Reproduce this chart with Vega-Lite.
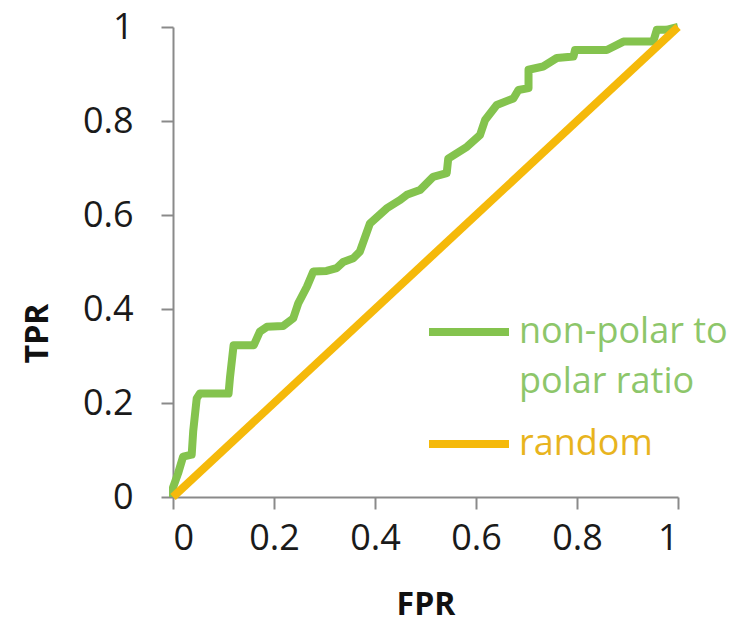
{
  "$schema": "https://vega.github.io/schema/vega-lite/v6.json",
  "width": 505,
  "height": 470,
  "autosize": {"type": "none"},
  "padding": {"left": 173, "top": 27, "right": 78, "bottom": 129},
  "background": "white",
  "config": {
    "view": {"stroke": null},
    "font": "Open Sans",
    "style": {"guide-label": {"lineHeight": 50}},
    "axis": {
      "grid": false,
      "domainColor": "#8a8a8a",
      "domainWidth": 2,
      "tickColor": "#8a8a8a",
      "tickWidth": 2,
      "tickSize": 12,
      "labelFont": "Open Sans",
      "labelFontSize": 36,
      "labelColor": "#1a1a1a",
      "titleFont": "Open Sans",
      "titleFontSize": 32,
      "titleFontWeight": "bold",
      "titleColor": "#111111"
    }
  },
  "data": {
    "values": [
      {"series": "non-polar to polar ratio", "fpr": 0, "tpr": 0},
      {"series": "non-polar to polar ratio", "fpr": 0, "tpr": 0.02},
      {"series": "non-polar to polar ratio", "fpr": 0.01, "tpr": 0.05},
      {"series": "non-polar to polar ratio", "fpr": 0.02, "tpr": 0.086},
      {"series": "non-polar to polar ratio", "fpr": 0.037, "tpr": 0.09},
      {"series": "non-polar to polar ratio", "fpr": 0.04, "tpr": 0.14},
      {"series": "non-polar to polar ratio", "fpr": 0.047, "tpr": 0.21},
      {"series": "non-polar to polar ratio", "fpr": 0.053, "tpr": 0.22},
      {"series": "non-polar to polar ratio", "fpr": 0.11, "tpr": 0.22},
      {"series": "non-polar to polar ratio", "fpr": 0.113, "tpr": 0.256},
      {"series": "non-polar to polar ratio", "fpr": 0.12, "tpr": 0.323},
      {"series": "non-polar to polar ratio", "fpr": 0.16, "tpr": 0.323},
      {"series": "non-polar to polar ratio", "fpr": 0.172, "tpr": 0.352},
      {"series": "non-polar to polar ratio", "fpr": 0.186, "tpr": 0.362},
      {"series": "non-polar to polar ratio", "fpr": 0.218, "tpr": 0.364},
      {"series": "non-polar to polar ratio", "fpr": 0.238, "tpr": 0.38},
      {"series": "non-polar to polar ratio", "fpr": 0.248, "tpr": 0.412},
      {"series": "non-polar to polar ratio", "fpr": 0.265, "tpr": 0.447},
      {"series": "non-polar to polar ratio", "fpr": 0.278, "tpr": 0.48},
      {"series": "non-polar to polar ratio", "fpr": 0.304, "tpr": 0.481},
      {"series": "non-polar to polar ratio", "fpr": 0.324, "tpr": 0.487},
      {"series": "non-polar to polar ratio", "fpr": 0.337, "tpr": 0.5},
      {"series": "non-polar to polar ratio", "fpr": 0.357, "tpr": 0.508},
      {"series": "non-polar to polar ratio", "fpr": 0.37, "tpr": 0.522},
      {"series": "non-polar to polar ratio", "fpr": 0.39, "tpr": 0.582},
      {"series": "non-polar to polar ratio", "fpr": 0.423, "tpr": 0.614},
      {"series": "non-polar to polar ratio", "fpr": 0.45, "tpr": 0.632},
      {"series": "non-polar to polar ratio", "fpr": 0.463, "tpr": 0.643},
      {"series": "non-polar to polar ratio", "fpr": 0.489, "tpr": 0.653},
      {"series": "non-polar to polar ratio", "fpr": 0.515, "tpr": 0.681},
      {"series": "non-polar to polar ratio", "fpr": 0.542, "tpr": 0.689},
      {"series": "non-polar to polar ratio", "fpr": 0.545, "tpr": 0.72},
      {"series": "non-polar to polar ratio", "fpr": 0.582, "tpr": 0.745},
      {"series": "non-polar to polar ratio", "fpr": 0.608, "tpr": 0.77},
      {"series": "non-polar to polar ratio", "fpr": 0.618, "tpr": 0.802},
      {"series": "non-polar to polar ratio", "fpr": 0.641, "tpr": 0.834},
      {"series": "non-polar to polar ratio", "fpr": 0.674, "tpr": 0.848},
      {"series": "non-polar to polar ratio", "fpr": 0.684, "tpr": 0.866},
      {"series": "non-polar to polar ratio", "fpr": 0.704, "tpr": 0.87},
      {"series": "non-polar to polar ratio", "fpr": 0.704, "tpr": 0.909},
      {"series": "non-polar to polar ratio", "fpr": 0.733, "tpr": 0.916},
      {"series": "non-polar to polar ratio", "fpr": 0.76, "tpr": 0.934},
      {"series": "non-polar to polar ratio", "fpr": 0.793, "tpr": 0.937},
      {"series": "non-polar to polar ratio", "fpr": 0.796, "tpr": 0.951},
      {"series": "non-polar to polar ratio", "fpr": 0.859, "tpr": 0.951},
      {"series": "non-polar to polar ratio", "fpr": 0.892, "tpr": 0.969},
      {"series": "non-polar to polar ratio", "fpr": 0.951, "tpr": 0.969},
      {"series": "non-polar to polar ratio", "fpr": 0.958, "tpr": 0.994},
      {"series": "non-polar to polar ratio", "fpr": 0.977, "tpr": 0.994},
      {"series": "non-polar to polar ratio", "fpr": 1, "tpr": 1},
      {"series": "random", "fpr": 0, "tpr": 0},
      {"series": "random", "fpr": 1, "tpr": 1}
    ]
  },
  "mark": {"type": "line", "strokeWidth": 8, "strokeJoin": "round", "strokeCap": "butt"},
  "encoding": {
    "x": {
      "field": "fpr", "type": "quantitative", "title": "FPR",
      "scale": {"domain": [0, 1], "nice": false, "zero": false},
      "axis": {"values": [0, 0.2, 0.4, 0.6, 0.8, 1], "format": ".1~f", "labelPadding": 12, "titlePadding": 33}
    },
    "y": {
      "field": "tpr", "type": "quantitative", "title": "TPR",
      "scale": {"domain": [0, 1], "nice": false, "zero": false},
      "axis": {"values": [0, 0.2, 0.4, 0.6, 0.8, 1], "format": ".1~f", "labelPadding": 28, "titlePadding": 28, "titleY": 306}
    },
    "color": {
      "field": "series", "type": "nominal",
      "scale": {"domain": ["non-polar to polar ratio", "random"], "range": ["#84c34e", "#f5b90a"]},
      "legend": {
        "title": null,
        "orient": "none",
        "legendX": 252,
        "legendY": 261,
        "symbolType": "stroke",
        "symbolSize": 6400,
        "symbolStrokeWidth": 8,
        "labelFont": "Open Sans",
        "labelFontSize": 36,
        "labelOffset": 6,
        "labelLimit": 400,
        "rowPadding": 0,
        "labelExpr": "datum.value == 'random' ? 'random' : ['non-polar to', 'polar ratio']",
        "labelColor": {"expr": "datum.value == 'random' ? '#e8b41e' : '#8dc66a'"}
      }
    }
  }
}
